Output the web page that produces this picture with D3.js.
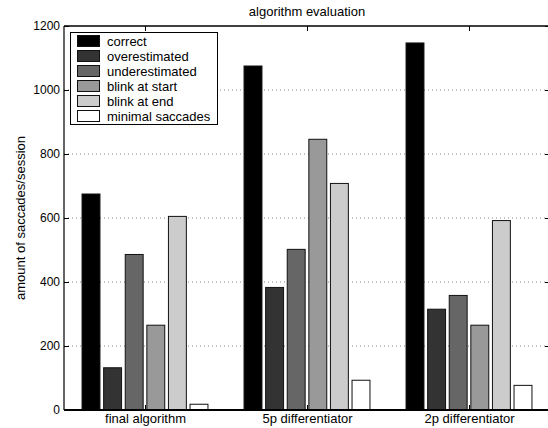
<!DOCTYPE html>
<html>
<head>
<meta charset="utf-8">
<script src="https://cdn.jsdelivr.net/npm/d3@7"></script>
<style>
  body { margin: 0; background: #fff; }
  text { font-family: "Liberation Sans", Arial, Helvetica, sans-serif; fill: #000; }
</style>
</head>
<body>
<div id="chart"></div>
<script>
var categories = ["final algorithm", "5p differentiator", "2p differentiator"];
var seriesNames = ["correct", "overestimated", "underestimated", "blink at start", "blink at end", "minimal saccades"];
var seriesColors = ["#000000", "#333333", "#666666", "#999999", "#cccccc", "#ffffff"];
// values per series, one entry per category
var correct = [675, 1075, 1147];
var overestimated = [132, 383, 315];
var underestimated = [486, 502, 358];
var blinkStart = [265, 846, 265];
var blinkEnd = [605, 708, 592];
var minimalSaccades = [18, 93, 77];
var yTicks = [0, 200, 400, 600, 800, 1000, 1200];

var seriesValues = [correct, overestimated, underestimated, blinkStart, blinkEnd, minimalSaccades];

var width = 548, height = 428;
var margin = { left: 64, top: 26, right: 550, bottom: 410 };

var svg = d3.select("#chart").append("svg")
    .attr("width", width)
    .attr("height", height);

svg.append("rect").attr("width", width).attr("height", height).attr("fill", "#fff");

var x0 = d3.scaleBand()
    .domain(categories)
    .range([margin.left, margin.right])
    .padding(0);

var groupW = x0.bandwidth();
var x1 = d3.scaleBand()
    .domain(seriesNames)
    .range([groupW * 0.1, groupW * 0.9])
    .paddingInner(0.17)
    .paddingOuter(0.085);

var y = d3.scaleLinear()
    .domain([0, 1200])
    .range([margin.bottom, margin.top]);

// dotted grid
svg.append("g")
    .selectAll("line")
    .data(yTicks.filter(function (d) { return d > 0 && d < 1200; }))
    .enter()
    .append("line")
    .attr("x1", margin.left)
    .attr("x2", margin.right)
    .attr("y1", function (d) { return y(d); })
    .attr("y2", function (d) { return y(d); })
    .attr("stroke", "#888")
    .attr("stroke-width", 1)
    .attr("stroke-dasharray", "1,3");

// bars
var groups = svg.append("g")
    .selectAll("g")
    .data(categories)
    .enter()
    .append("g")
    .attr("transform", function (d) { return "translate(" + x0(d) + ",0)"; });

groups.selectAll("rect")
    .data(function (c, ci) {
        return seriesNames.map(function (s, si) {
            return { name: s, value: seriesValues[si][ci], color: seriesColors[si] };
        });
    })
    .enter()
    .append("rect")
    .attr("x", function (d) { return x1(d.name); })
    .attr("y", function (d) { return y(d.value); })
    .attr("width", x1.bandwidth())
    .attr("height", function (d) { return y(0) - y(d.value); })
    .attr("fill", function (d) { return d.color; })
    .attr("stroke", "#111")
    .attr("stroke-width", 1);

// axes: left with inward ticks
var yAxis = d3.axisLeft(y).tickValues(yTicks).tickFormat(d3.format("d"))
    .tickSizeInner(-5).tickSizeOuter(0).tickPadding(8);
var gy = svg.append("g").attr("transform", "translate(" + margin.left + ",0)").call(yAxis);
gy.selectAll("text").attr("font-size", 12).attr("x", -4);

var yAxisR = d3.axisRight(y).tickValues(yTicks).tickSizeInner(-5).tickSizeOuter(0).tickFormat("");
svg.append("g").attr("transform", "translate(" + margin.right + ",0)").call(yAxisR);

var xCenter = d3.scalePoint().domain(categories).range([x0(categories[0]) + groupW / 2, x0(categories[2]) + groupW / 2]);

var xAxis = d3.axisBottom(xCenter).tickSizeInner(-5).tickSizeOuter(0).tickPadding(10);
var gx = svg.append("g").attr("transform", "translate(0," + margin.bottom + ")").call(xAxis);
gx.selectAll("text").attr("font-size", 13).attr("y", 4).attr("dy", "0.71em");
gx.selectAll(".tick line").attr("stroke-width", 1);

var xAxisTop = d3.axisTop(xCenter).tickSizeInner(-5).tickSizeOuter(0).tickFormat("");
svg.append("g").attr("transform", "translate(0," + margin.top + ")").call(xAxisTop);

svg.selectAll(".domain").remove();
// spines
svg.append("line").attr("x1", margin.left).attr("x2", margin.right).attr("y1", margin.bottom).attr("y2", margin.bottom)
    .attr("stroke", "#000").attr("stroke-width", 2);
svg.append("line").attr("x1", margin.left).attr("x2", margin.right).attr("y1", margin.top).attr("y2", margin.top)
    .attr("stroke", "#000").attr("stroke-width", 1.5);
svg.append("line").attr("x1", margin.left).attr("x2", margin.left).attr("y1", margin.top).attr("y2", margin.bottom)
    .attr("stroke", "#000").attr("stroke-width", 1.2);

// title
svg.append("text")
    .attr("x", (margin.left + margin.right) / 2)
    .attr("y", 16)
    .attr("text-anchor", "middle")
    .attr("font-size", 13)
    .text("algorithm evaluation");

// y label
svg.append("text")
    .attr("transform", "translate(25," + (margin.top + margin.bottom) / 2 + ") rotate(-90)")
    .attr("text-anchor", "middle")
    .attr("font-size", 13)
    .text("amount of saccades/session");

// legend
var legend = svg.append("g");
legend.append("rect")
    .attr("x", 70.5).attr("y", 32.5)
    .attr("width", 147).attr("height", 92)
    .attr("fill", "#fff")
    .attr("stroke", "#000")
    .attr("stroke-width", 1);

var items = legend.selectAll("g.item")
    .data(seriesNames)
    .enter()
    .append("g")
    .attr("class", "item")
    .attr("transform", function (d, i) { return "translate(0," + (41 + i * 15) + ")"; });

items.append("rect")
    .attr("x", 77.5).attr("y", -5.5)
    .attr("width", 22).attr("height", 11)
    .attr("fill", function (d, i) { return seriesColors[i]; })
    .attr("stroke", "#111")
    .attr("stroke-width", 1);

items.append("text")
    .attr("x", 107)
    .attr("dy", "0.35em")
    .attr("font-size", 13)
    .text(function (d) { return d; });
</script>
</body>
</html>
